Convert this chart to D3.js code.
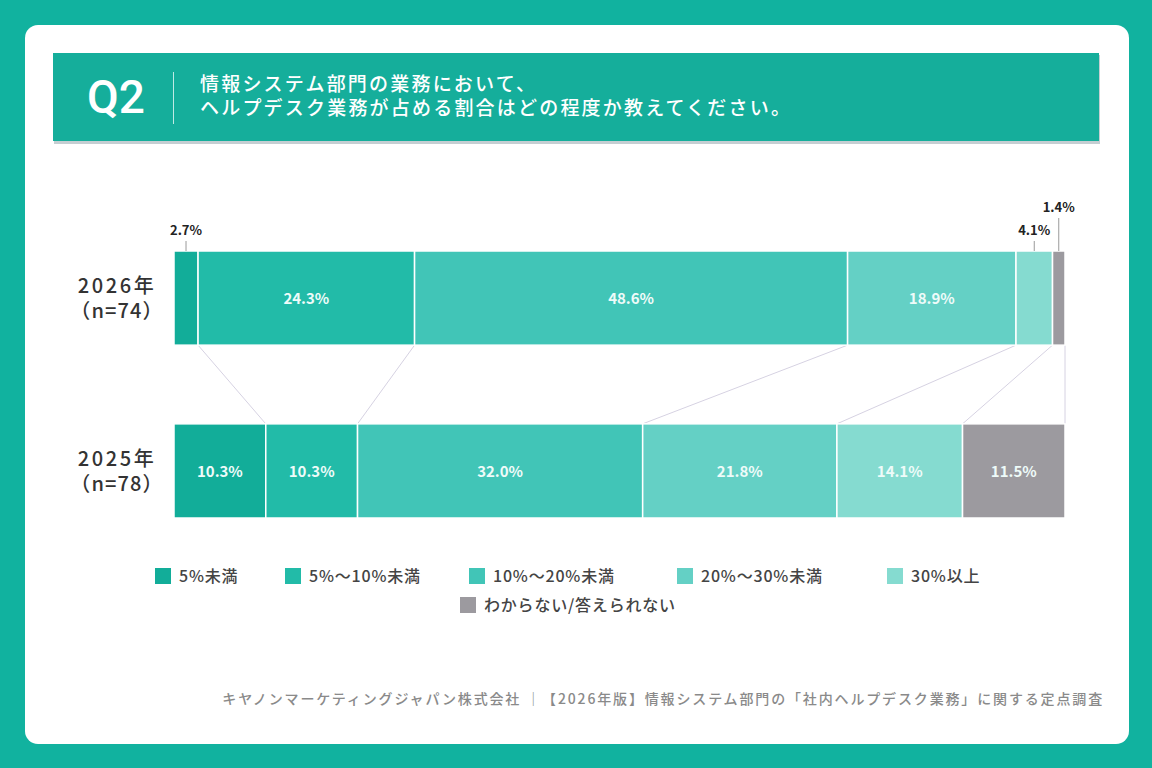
<!DOCTYPE html>
<html>
<head>
<meta charset="utf-8">
<script src="https://cdn.jsdelivr.net/npm/d3@7"></script>
<style>
  html, body { margin: 0; padding: 0; background: #11b29f; }
  svg { display: block; font-family: "Noto Sans CJK JP", "Noto Sans", sans-serif; }
</style>
</head>
<body>
<div id="chart"></div>
<script>
/* DATA */
const years = ["2026年", "2025年"];
const samples = ["（n=74）", "（n=78）"];
const categories = ["5%未満", "5%～10%未満", "10%～20%未満", "20%～30%未満", "30%以上", "わからない/答えられない"];
const values2026 = [2.7, 24.3, 48.6, 18.9, 4.1, 1.4];
const values2025 = [10.3, 10.3, 32.0, 21.8, 14.1, 11.5];
const colors = ["#12ad99", "#22bba8", "#41c5b7", "#64d0c5", "#85dbd0", "#9c9a9f"];

const width = 1152, height = 768;

const svg = d3.select("#chart").append("svg")
  .attr("width", width)
  .attr("height", height);

// background + card
svg.append("rect").attr("width", width).attr("height", height).attr("fill", "#11b29f");
svg.append("rect")
  .attr("x", 25).attr("y", 25).attr("width", 1104).attr("height", 719)
  .attr("rx", 13).attr("fill", "#ffffff");

// header band
svg.append("rect")
  .attr("x", 54).attr("y", 55).attr("width", 1046).attr("height", 89)
  .attr("fill", "#c5ced2");
svg.append("rect")
  .attr("x", 53).attr("y", 53).attr("width", 1046).attr("height", 88)
  .attr("fill", "#15ae9b");
svg.append("text")
  .attr("x", 116).attr("y", 113)
  .attr("text-anchor", "middle")
  .attr("fill", "#ffffff")
  .attr("font-family", "Roboto, 'Noto Sans', sans-serif")
  .attr("font-size", 46).attr("font-weight", 500)
  .text("Q2");
svg.append("line")
  .attr("x1", 173.5).attr("x2", 173.5).attr("y1", 72).attr("y2", 124)
  .attr("stroke", "#bfeae4").attr("stroke-width", 1);
const titleLines = ["情報システム部門の業務において、", "ヘルプデスク業務が占める割合はどの程度か教えてください。"];
svg.append("g").selectAll("text")
  .data(titleLines)
  .join("text")
  .attr("x", 200)
  .attr("y", (d, i) => 91 + i * 24)
  .attr("fill", "#ffffff")
  .attr("font-size", 19).attr("font-weight", 500)
  .attr("letter-spacing", 2.2)
  .text(d => d);

/* SCALES */
const xScale = d3.scaleLinear().domain([0, 100]).range([174, 1065]);
// bar height 94, gap 79
const yScale = d3.scaleBand().domain(years).range([251, 518])
  .paddingInner(79 / 173.5).paddingOuter(0);

const rows = [
  { year: years[0], n: samples[0], values: values2026 },
  { year: years[1], n: samples[1], values: values2025 }
];
rows.forEach(r => {
  let acc = 0;
  r.segs = r.values.map((v, i) => {
    const s = { cat: categories[i], v: v, x0: acc, x1: acc + v, i: i, year: r.year };
    acc += v;
    return s;
  });
});

/* CONNECTOR LINES */
const rowTop = rows[0], rowBot = rows[1];
const linkData = rowTop.segs.slice(1).map((s, i) => ({ a: s.x0, b: rowBot.segs[i + 1].x0 }))
  .concat([{ a: 100, b: 100 }]);
svg.append("g").selectAll("line")
  .data(linkData)
  .join("line")
  .attr("x1", d => xScale(d.a))
  .attr("x2", d => xScale(d.b))
  .attr("y1", yScale(rowTop.year) + yScale.bandwidth())
  .attr("y2", yScale(rowBot.year))
  .attr("stroke", "#d6d2e2")
  .attr("stroke-width", 1);

/* BARS */
const rowG = svg.append("g").selectAll("g")
  .data(rows)
  .join("g");

rowG.selectAll("rect")
  .data(d => d.segs)
  .join("rect")
  .attr("x", d => xScale(d.x0))
  .attr("width", d => xScale(d.x1) - xScale(d.x0))
  .attr("y", d => yScale(d.year))
  .attr("height", yScale.bandwidth())
  .attr("fill", d => colors[d.i])
  .attr("stroke", "#ffffff")
  .attr("stroke-width", 1.5);

// labels inside
rowG.selectAll("text.inner")
  .data(d => d.segs.filter(s => s.v >= 8))
  .join("text")
  .attr("class", "inner")
  .attr("x", d => (xScale(d.x0) + xScale(d.x1)) / 2)
  .attr("y", d => yScale(d.year) + yScale.bandwidth() / 2 + 6)
  .attr("text-anchor", "middle")
  .attr("fill", "#eefbf9")
  .attr("font-size", 15).attr("font-weight", 700)
  .text(d => d.v.toFixed(1) + "%");

// small labels above with leader lines
const small = rowTop.segs.filter(s => s.v < 8);
const smallY = s => s.v < 2 ? 212 : 235;
const smallG = svg.append("g").selectAll("g")
  .data(small)
  .join("g");
smallG.append("line")
  .attr("x1", d => (xScale(d.x0) + xScale(d.x1)) / 2)
  .attr("x2", d => (xScale(d.x0) + xScale(d.x1)) / 2)
  .attr("y1", d => smallY(d) + 6)
  .attr("y2", yScale(rowTop.year))
  .attr("stroke", "#9a9a9a").attr("stroke-width", 1);
smallG.append("text")
  .attr("x", d => (xScale(d.x0) + xScale(d.x1)) / 2)
  .attr("y", d => smallY(d))
  .attr("text-anchor", "middle")
  .attr("fill", "#222")
  .attr("font-size", 13).attr("font-weight", 700)
  .text(d => d.v.toFixed(1) + "%");

/* ROW LABELS */
const labG = svg.append("g").selectAll("g")
  .data(rows)
  .join("g");
labG.append("text")
  .attr("x", 117)
  .attr("y", d => yScale(d.year) + yScale.bandwidth() / 2 - 5)
  .attr("text-anchor", "middle")
  .attr("fill", "#333")
  .attr("font-size", 20).attr("font-weight", 500)
  .attr("letter-spacing", 2.6)
  .text(d => d.year);
labG.append("text")
  .attr("x", 117)
  .attr("y", d => yScale(d.year) + yScale.bandwidth() / 2 + 20)
  .attr("text-anchor", "middle")
  .attr("fill", "#333")
  .attr("font-size", 20).attr("font-weight", 500)
  .attr("letter-spacing", 1.1)
  .text(d => d.n);

/* LEGEND */
const legendPos = [[155, 576], [285, 576], [469, 576], [677, 576], [887, 576], [460, 605]];
const legG = svg.append("g").selectAll("g")
  .data(categories)
  .join("g")
  .attr("transform", (d, i) => `translate(${legendPos[i][0]},${legendPos[i][1]})`);
legG.append("rect")
  .attr("x", 0).attr("y", -8).attr("width", 16).attr("height", 16)
  .attr("fill", (d, i) => colors[i]);
legG.append("text")
  .attr("x", 24).attr("y", 6)
  .attr("fill", "#444")
  .attr("font-size", 16).attr("font-weight", 500)
  .attr("letter-spacing", 0.8)
  .text(d => d);

/* FOOTER */
svg.append("text")
  .attr("x", 1104).attr("y", 704)
  .attr("text-anchor", "end")
  .attr("fill", "#8a8a8a")
  .attr("font-size", 14).attr("font-weight", 500)
  .attr("letter-spacing", 1.85)
  .text("キヤノンマーケティングジャパン株式会社 ｜【2026年版】情報システム部門の「社内ヘルプデスク業務」に関する定点調査");
</script>
</body>
</html>
